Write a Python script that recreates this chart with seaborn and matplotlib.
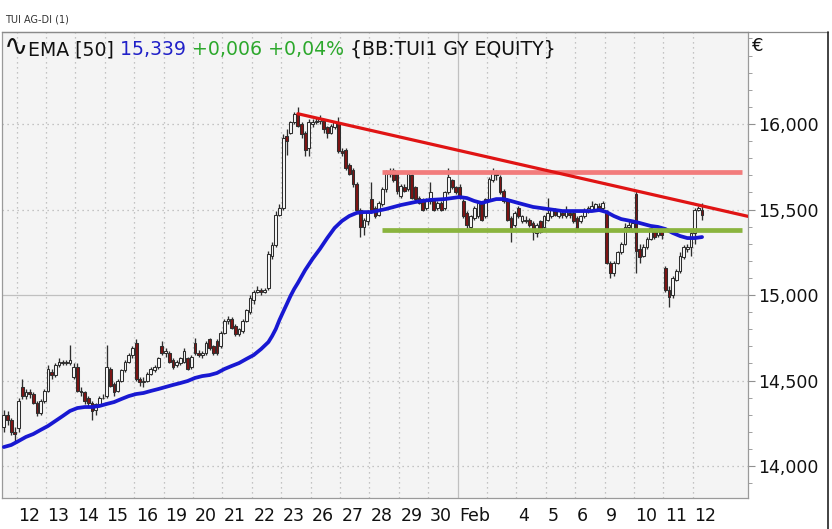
import numpy as np
import pandas as pd
import matplotlib
matplotlib.use('Agg')
import matplotlib.pyplot as plt
import matplotlib.transforms as mtransforms
from matplotlib.lines import Line2D
from matplotlib.ticker import FixedLocator, MultipleLocator, FuncFormatter
import seaborn as sns

# hourly candles (8 per session), last 4 bars of Jan 9 first, Feb 12 partial
opens = [
    14.23, 14.30, 14.27, 14.20,
    14.22, 14.46, 14.41, 14.43, 14.42, 14.37, 14.31, 14.38,
    14.44, 14.55, 14.53, 14.59, 14.61, 14.60, 14.60, 14.52,
    14.58, 14.44, 14.43, 14.40, 14.37, 14.33, 14.36, 14.40,
    14.41, 14.57, 14.48, 14.44, 14.50, 14.56, 14.61, 14.65,
    14.72, 14.51, 14.49, 14.50, 14.54, 14.56, 14.58, 14.70,
    14.66, 14.66, 14.62, 14.59, 14.60, 14.61, 14.63, 14.58,
    14.72, 14.66, 14.65, 14.66, 14.74, 14.70, 14.73, 14.70,
    14.78, 14.85, 14.86, 14.82, 14.77, 14.79, 14.85, 14.90,
    14.97, 15.02, 15.03, 15.02, 15.04, 15.23, 15.29, 15.47,
    15.51, 15.93, 15.95, 16.01, 16.06, 16.00, 15.95, 15.86,
    16.00, 16.01, 16.02, 16.02, 15.98, 15.95, 15.98, 16.01,
    15.84, 15.85, 15.76, 15.73, 15.65, 15.50, 15.40, 15.43,
    15.56, 15.51, 15.47, 15.53, 15.62, 15.72, 15.73, 15.71,
    15.58, 15.63, 15.62, 15.70, 15.63, 15.57, 15.56, 15.51,
    15.55, 15.56, 15.51, 15.54, 15.51, 15.60, 15.67, 15.63,
    15.63, 15.55, 15.48, 15.40, 15.45, 15.46, 15.53, 15.46,
    15.56, 15.67, 15.71, 15.69, 15.61, 15.56, 15.45, 15.41,
    15.51, 15.43, 15.44, 15.44, 15.42, 15.36, 15.43, 15.40,
    15.44, 15.46, 15.49, 15.46, 15.48, 15.46, 15.48, 15.48,
    15.45, 15.43, 15.46, 15.49, 15.50, 15.50, 15.52, 15.51,
    15.48, 15.19, 15.13, 15.19, 15.25, 15.30, 15.40, 15.38,
    15.59, 15.27, 15.23, 15.28, 15.33, 15.37, 15.35, 15.37,
    15.16, 15.03, 15.00, 15.09, 15.14, 15.22, 15.27, 15.28,
    15.36, 15.50, 15.50,
]
highs = [
    14.33, 14.32, 14.28, 14.23,
    14.40, 14.51, 14.45, 14.45, 14.43, 14.38, 14.39, 14.45,
    14.59, 14.57, 14.60, 14.63, 14.62, 14.62, 14.71, 14.60,
    14.60, 14.46, 14.44, 14.41, 14.38, 14.37, 14.41, 14.42,
    14.71, 14.58, 14.49, 14.51, 14.57, 14.62, 14.66, 14.70,
    14.74, 14.52, 14.52, 14.55, 14.58, 14.59, 14.64, 14.73,
    14.69, 14.67, 14.63, 14.62, 14.64, 14.69, 14.64, 14.65,
    14.75, 14.68, 14.67, 14.73, 14.75, 14.71, 14.74, 14.79,
    14.86, 14.88, 14.87, 14.83, 14.81, 14.86, 14.92, 15.00,
    15.03, 15.05, 15.04, 15.04, 15.26, 15.31, 15.49, 15.53,
    15.94, 15.97, 16.02, 16.07, 16.10, 16.01, 15.96, 16.03,
    16.03, 16.04, 16.05, 16.03, 15.99, 16.00, 16.02, 16.04,
    15.86, 15.86, 15.77, 15.74, 15.66, 15.51, 15.45, 15.50,
    15.66, 15.52, 15.55, 15.63, 15.73, 15.74, 15.74, 15.72,
    15.65, 15.65, 15.72, 15.71, 15.64, 15.58, 15.57, 15.57,
    15.66, 15.57, 15.55, 15.55, 15.61, 15.74, 15.68, 15.64,
    15.65, 15.56, 15.49, 15.47, 15.52, 15.55, 15.54, 15.57,
    15.69, 15.74, 15.73, 15.70, 15.62, 15.57, 15.46, 15.49,
    15.52, 15.47, 15.46, 15.45, 15.43, 15.42, 15.44, 15.47,
    15.57, 15.51, 15.51, 15.50, 15.50, 15.52, 15.50, 15.49,
    15.46, 15.47, 15.51, 15.52, 15.55, 15.54, 15.54, 15.55,
    15.50, 15.20, 15.20, 15.26, 15.31, 15.42, 15.43, 15.44,
    15.61, 15.30, 15.30, 15.34, 15.40, 15.38, 15.39, 15.38,
    15.17, 15.05, 15.11, 15.15, 15.25, 15.29, 15.30, 15.37,
    15.51, 15.52, 15.54,
]
lows = [
    14.20, 14.24, 14.18, 14.14,
    14.20, 14.39, 14.39, 14.40, 14.36, 14.29, 14.30, 14.37,
    14.43, 14.51, 14.52, 14.58, 14.59, 14.59, 14.59, 14.51,
    14.43, 14.41, 14.36, 14.35, 14.27, 14.30, 14.35, 14.39,
    14.40, 14.46, 14.41, 14.43, 14.49, 14.55, 14.60, 14.63,
    14.50, 14.47, 14.46, 14.49, 14.53, 14.55, 14.57, 14.65,
    14.64, 14.60, 14.57, 14.58, 14.59, 14.60, 14.56, 14.57,
    14.65, 14.64, 14.63, 14.65, 14.68, 14.65, 14.65, 14.69,
    14.77, 14.83, 14.80, 14.76, 14.76, 14.78, 14.84, 14.89,
    14.95, 15.01, 15.00, 15.01, 15.03, 15.21, 15.28, 15.46,
    15.50, 15.82, 15.94, 16.00, 15.98, 15.92, 15.81, 15.81,
    15.98, 16.00, 16.00, 15.95, 15.92, 15.94, 15.97, 15.83,
    15.81, 15.73, 15.70, 15.63, 15.48, 15.34, 15.35, 15.41,
    15.48, 15.45, 15.46, 15.52, 15.60, 15.69, 15.66, 15.59,
    15.57, 15.60, 15.61, 15.56, 15.55, 15.53, 15.49, 15.50,
    15.53, 15.49, 15.50, 15.49, 15.50, 15.59, 15.62, 15.59,
    15.56, 15.45, 15.39, 15.39, 15.44, 15.45, 15.43, 15.45,
    15.55, 15.66, 15.67, 15.59, 15.54, 15.43, 15.31, 15.40,
    15.45, 15.42, 15.42, 15.40, 15.32, 15.34, 15.36, 15.39,
    15.43, 15.45, 15.46, 15.45, 15.45, 15.45, 15.45, 15.42,
    15.38, 15.42, 15.45, 15.48, 15.49, 15.49, 15.50, 15.50,
    15.18, 15.10, 15.11, 15.18, 15.24, 15.29, 15.38, 15.37,
    15.13, 15.19, 15.22, 15.27, 15.32, 15.33, 15.34, 15.33,
    15.02, 14.93, 14.98, 15.08, 15.13, 15.21, 15.25, 15.23,
    15.30, 15.49, 15.44,
]
closes = [
    14.30, 14.27, 14.20, 14.19,
    14.38, 14.41, 14.43, 14.42, 14.37, 14.31, 14.38, 14.44,
    14.57, 14.53, 14.59, 14.61, 14.60, 14.61, 14.62, 14.58,
    14.44, 14.43, 14.38, 14.37, 14.32, 14.36, 14.40, 14.40,
    14.58, 14.47, 14.43, 14.50, 14.56, 14.61, 14.65, 14.69,
    14.51, 14.49, 14.50, 14.54, 14.57, 14.58, 14.63, 14.66,
    14.67, 14.61, 14.58, 14.61, 14.63, 14.67, 14.57, 14.64,
    14.66, 14.65, 14.66, 14.72, 14.69, 14.66, 14.66, 14.78,
    14.85, 14.86, 14.81, 14.77, 14.80, 14.85, 14.91, 14.98,
    15.02, 15.03, 15.02, 15.03, 15.24, 15.29, 15.47, 15.51,
    15.92, 15.90, 16.01, 16.06, 15.99, 15.94, 15.85, 16.01,
    16.01, 16.02, 16.03, 15.97, 15.95, 15.99, 16.01, 15.84,
    15.83, 15.74, 15.71, 15.65, 15.50, 15.40, 15.44, 15.49,
    15.50, 15.46, 15.54, 15.62, 15.72, 15.71, 15.67, 15.61,
    15.64, 15.61, 15.71, 15.57, 15.56, 15.54, 15.50, 15.56,
    15.60, 15.50, 15.54, 15.50, 15.60, 15.69, 15.63, 15.60,
    15.57, 15.46, 15.41, 15.46, 15.51, 15.54, 15.44, 15.56,
    15.68, 15.72, 15.70, 15.60, 15.55, 15.44, 15.38, 15.48,
    15.46, 15.46, 15.43, 15.41, 15.37, 15.41, 15.37, 15.46,
    15.48, 15.50, 15.47, 15.49, 15.47, 15.49, 15.47, 15.43,
    15.39, 15.46, 15.50, 15.51, 15.52, 15.53, 15.51, 15.54,
    15.19, 15.13, 15.19, 15.25, 15.30, 15.40, 15.41, 15.42,
    15.26, 15.22, 15.28, 15.33, 15.39, 15.34, 15.38, 15.35,
    15.03, 14.99, 15.10, 15.14, 15.23, 15.28, 15.28, 15.36,
    15.50, 15.51, 15.47,
]

# EMA(50) at some bars
ema_bar = [0, 2, 4, 6, 8, 10, 12, 14, 16, 18, 20, 22, 24, 26, 28, 30, 32, 34, 36, 38,
           40, 42, 44, 46, 48, 50, 52, 54, 56, 58, 60, 62, 64, 66, 68, 70, 72, 73, 74, 75,
           76, 77, 78, 79, 80, 82, 84, 86, 88, 90, 92, 94, 96, 98, 100, 104, 108, 112, 116, 120,
           124, 126, 128, 130, 132, 134, 136, 138, 140, 144, 148, 152, 156, 160, 162, 164, 166, 168, 172, 176,
           178, 180, 182, 184, 186, 188, 190]
ema_val = [14.111, 14.123, 14.146, 14.170, 14.187, 14.211, 14.234, 14.263, 14.292, 14.322,
           14.339, 14.345, 14.345, 14.351, 14.363, 14.374, 14.392, 14.409, 14.421, 14.427,
           14.439, 14.450, 14.462, 14.474, 14.485, 14.497, 14.515, 14.526, 14.532, 14.544,
           14.567, 14.585, 14.602, 14.626, 14.649, 14.684, 14.725, 14.760, 14.801, 14.854,
           14.901, 14.947, 14.994, 15.035, 15.070, 15.146, 15.211, 15.269, 15.333, 15.392,
           15.433, 15.462, 15.480, 15.485, 15.485, 15.503, 15.526, 15.544, 15.556, 15.561,
           15.573, 15.567, 15.550, 15.538, 15.550, 15.561, 15.561, 15.550, 15.538, 15.515,
           15.503, 15.491, 15.491, 15.491, 15.497, 15.485, 15.462, 15.444, 15.427, 15.404,
           15.398, 15.386, 15.363, 15.345, 15.333, 15.333, 15.339]

# drawn lines
trend_bar = [80, 202.5]
trend_val = [16.06, 15.46]
level_bar = [103, 201]
resistance = 15.72
support = 15.38

day_labels = ['12', '13', '14', '15', '16', '19', '20', '21', '22', '23', '26', '27',
              '28', '29', '30', 'Feb', '', '4', '5', '6', '9', '10', '11', '12']
bars_before = 4
bars_per_day = 8

df = pd.DataFrame({'open': opens, 'high': highs, 'low': lows, 'close': closes})
df['bar'] = np.arange(len(df))
up = df['close'] >= df['open']

sns.set_style('white')
plt.rcParams['font.family'] = ['DejaVu Sans']

fig = plt.figure(figsize=(8.32, 5.29), dpi=100)
ax = fig.add_axes([2 / 832, 31 / 529, 746 / 832, 466 / 529])
ax.set_facecolor('#f4f4f4')

day_ticks = [bars_before - 0.5 + bars_per_day * d for d in range(len(day_labels))]

# grid
for yv in [14.0, 14.5, 15.5, 16.0]:
    ax.axhline(yv, color='#b4b4b4', ls=(0, (1, 3)), lw=0.9, zorder=1)
ax.axhline(15.0, color='#c0c0c0', lw=0.9, zorder=1)
for i, xv in enumerate(day_ticks):
    if day_labels[i] == 'Feb':
        ax.axvline(xv, color='#c0c0c0', lw=0.9, zorder=1)
    else:
        ax.axvline(xv, color='#b4b4b4', ls=(0, (1, 3)), lw=0.9, zorder=1)

# candles
ax.vlines(df['bar'], df['low'], df['high'], color='#2e2e2e', lw=0.95, zorder=3)
ax.bar(df['bar'], df['close'] - df['open'], bottom=df['open'], width=0.75,
       color=np.where(up, '#f8f8f8', '#7e1414'), edgecolor='#2e2e2e', linewidth=0.75, zorder=4)

# EMA and hand-drawn lines
sns.lineplot(x=ema_bar, y=ema_val, ax=ax, color='#1818d2', lw=2.7, zorder=5)
ax.hlines(resistance, level_bar[0], level_bar[1], color='#f27c7c', lw=3.4, zorder=6)
ax.hlines(support, level_bar[0], level_bar[1], color='#8ab43e', lw=3.4, zorder=6)
sns.lineplot(x=trend_bar, y=trend_val, ax=ax, color='#e01414', lw=2.3, zorder=7)

ax.set_xlim(-0.5, 202.5)
ax.set_ylim(13.813, 16.538)

# axes
ax.yaxis.tick_right()
ax.yaxis.set_major_locator(FixedLocator([14.0, 14.5, 15.0, 15.5, 16.0]))
ax.yaxis.set_minor_locator(MultipleLocator(0.1))
ax.yaxis.set_major_formatter(FuncFormatter(lambda v, p: f'{v:.3f}'.replace('.', ',')))
ax.tick_params(axis='y', which='major', direction='out', length=5, width=0.8,
               color='#909090', labelsize=12.5, labelcolor='#111111', pad=2,
               right=True, left=False)
ax.tick_params(axis='y', which='minor', direction='out', length=3, width=0.7,
               color='#a0a0a0', right=True, left=False)
ax.set_xticks(day_ticks)
ax.set_xticklabels(day_labels)
ax.tick_params(axis='x', direction='out', length=4, width=0.8, color='#909090',
               labelsize=12.5, labelcolor='#111111', pad=2.5)
shift = mtransforms.ScaledTranslation(1.5 / 100, 0, fig.dpi_scale_trans)
for lbl in ax.get_xticklabels():
    lbl.set_horizontalalignment('left')
    lbl.set_transform(lbl.get_transform() + shift)
ax.set_xlabel('')
ax.set_ylabel('')
for s in ax.spines.values():
    s.set_color('#9a9a9a')
    s.set_linewidth(0.9)

# frame lines of the panel
fig.add_artist(Line2D([2 / 832, 828 / 832], [1 - 32 / 529, 1 - 32 / 529],
                      color='#8a8a8a', lw=0.9, transform=fig.transFigure))
fig.add_artist(Line2D([828 / 832, 828 / 832], [0, 1 - 32 / 529],
                      color='#222222', lw=1.2, transform=fig.transFigure))

# header texts
fig.text(5 / 832, 1 - 19 / 529, 'TUI AG-DI (1)', fontsize=7, color='#333333', va='center')
fig.text(752 / 832, 1 - 46 / 529, '€', fontsize=13, color='#111111', va='center')

pieces = [('∿', '#111111', 21), ('EMA [50]', '#111111', 13.6), (' 15,339', '#2020c8', 13.6),
          (' +0,006 +0,04%', '#2ca82c', 13.6), (' {BB:TUI1 GY EQUITY}', '#111111', 13.6)]
renderer = fig.canvas.get_renderer()
xpos = 4 / 832
for txt, col, fs in pieces:
    t = fig.text(xpos, 1 - 55 / 529, txt, fontsize=fs, color=col, va='baseline')
    bb = t.get_window_extent(renderer)
    xpos = bb.x1 / (fig.get_figwidth() * fig.dpi)

fig.savefig('out.png', dpi=100)
